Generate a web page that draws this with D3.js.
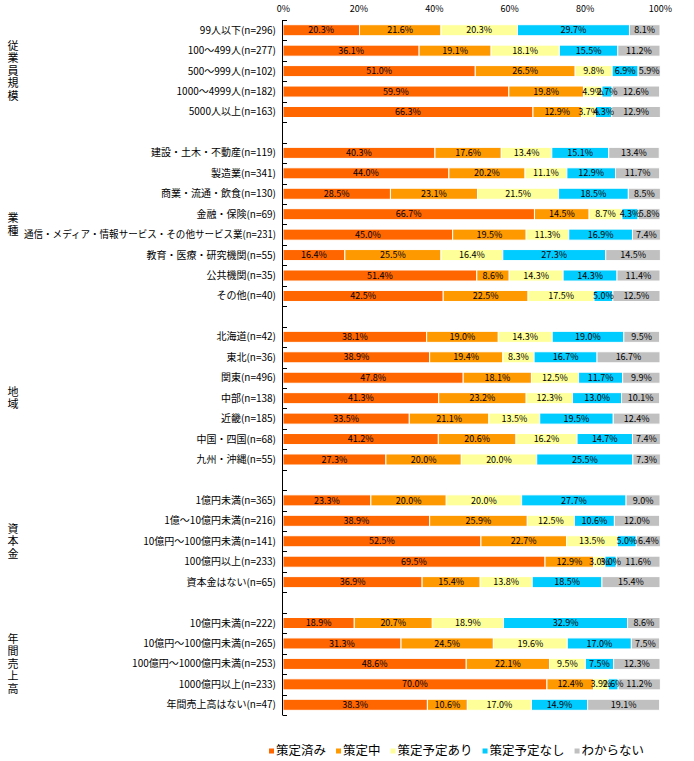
<!DOCTYPE html>
<html>
<head>
<meta charset="utf-8">
<script src="https://cdn.jsdelivr.net/npm/d3@7"></script>
<style>
  body { margin: 0; background: #fff; }
  text { font-family: "Noto Sans CJK JP", sans-serif; fill: #000; }
</style>
</head>
<body>
<div id="chart"></div>
<script>
// 系列名と色
const seriesNames = ["策定済み", "策定中", "策定予定あり", "策定予定なし", "わからない"]
const seriesColors = ["#ff6600", "#ff9900", "#ffff99", "#00ccff", "#c0c0c0"]

// グループ名とカテゴリ
const groupNames = ["従業員規模", "業種", "地域", "資本金", "年間売上高"]
const sizeCats = ["99人以下(n=296)", "100～499人(n=277)", "500～999人(n=102)", "1000～4999人(n=182)", "5000人以上(n=163)"]
const industryCats = ["建設・土木・不動産(n=119)", "製造業(n=341)", "商業・流通・飲食(n=130)", "金融・保険(n=69)",
  "通信・メディア・情報サービス・その他サービス業(n=231)", "教育・医療・研究機関(n=55)", "公共機関(n=35)", "その他(n=40)"]
const regionCats = ["北海道(n=42)", "東北(n=36)", "関東(n=496)", "中部(n=138)", "近畿(n=185)", "中国・四国(n=68)", "九州・沖縄(n=55)"]
const capitalCats = ["1億円未満(n=365)", "1億～10億円未満(n=216)", "10億円～100億円未満(n=141)", "100億円以上(n=233)", "資本金はない(n=65)"]
const salesCats = ["10億円未満(n=222)", "10億円～100億円未満(n=265)", "100億円～1000億円未満(n=253)", "1000億円以上(n=233)", "年間売上高はない(n=47)"]

// 系列ごとの値(%)、カテゴリ順
const done = [20.3, 36.1, 51.0, 59.9, 66.3,
  40.3, 44.0, 28.5, 66.7, 45.0, 16.4, 51.4, 42.5,
  38.1, 38.9, 47.8, 41.3, 33.5, 41.2, 27.3,
  23.3, 38.9, 52.5, 69.5, 36.9,
  18.9, 31.3, 48.6, 70.0, 38.3]
const inProgress = [21.6, 19.1, 26.5, 19.8, 12.9,
  17.6, 20.2, 23.1, 14.5, 19.5, 25.5, 8.6, 22.5,
  19.0, 19.4, 18.1, 23.2, 21.1, 20.6, 20.0,
  20.0, 25.9, 22.7, 12.9, 15.4,
  20.7, 24.5, 22.1, 12.4, 10.6]
const planned = [20.3, 18.1, 9.8, 4.9, 3.7,
  13.4, 11.1, 21.5, 8.7, 11.3, 16.4, 14.3, 17.5,
  14.3, 8.3, 12.5, 12.3, 13.5, 16.2, 20.0,
  20.0, 12.5, 13.5, 3.0, 13.8,
  18.9, 19.6, 9.5, 3.9, 17.0]
const notPlanned = [29.7, 15.5, 6.9, 2.7, 4.3,
  15.1, 12.9, 18.5, 4.3, 16.9, 27.3, 14.3, 5.0,
  19.0, 16.7, 11.7, 13.0, 19.5, 14.7, 25.5,
  27.7, 10.6, 5.0, 3.0, 18.5,
  32.9, 17.0, 7.5, 2.6, 14.9]
const unknown = [8.1, 11.2, 5.9, 12.6, 12.9,
  13.4, 11.7, 8.5, 5.8, 7.4, 14.5, 11.4, 12.5,
  9.5, 16.7, 9.9, 10.1, 12.4, 7.4, 7.3,
  9.0, 12.0, 6.4, 11.6, 15.4,
  8.6, 7.5, 12.3, 11.2, 19.1]

const xTicks = [0, 20, 40, 60, 80, 100]

// ---- 表示用データの組み立て ----
const groupCats = [sizeCats, industryCats, regionCats, capitalCats, salesCats]
const seriesValues = [done, inProgress, planned, notPlanned, unknown]

const rows = []
const slots = []
groupCats.forEach((cats, g) => {
  cats.forEach(c => {
    const i = rows.length
    rows.push({ name: c, group: g, values: seriesValues.map(s => s[i]) })
    slots.push(c)
  })
  if (g < groupCats.length - 1) slots.push("blank" + g)
})

const W = 694, H = 761
const margin = { top: 20, left: 283, right: 34, bottom: 46 }
const width = W - margin.left - margin.right
const height = H - margin.top - margin.bottom

const svg = d3.select("#chart").append("svg")
  .attr("width", W)
  .attr("height", H)

const g = svg.append("g")
  .attr("transform", "translate(" + margin.left + "," + margin.top + ")")

const x = d3.scaleLinear().domain([0, 100]).range([0, width])
const y = d3.scaleBand().domain(slots).range([0, height]).paddingInner(0.46).paddingOuter(0.23)
const step = y.step()

// 上側の目盛りラベル
g.append("g")
  .call(d3.axisTop(x).tickValues(xTicks).tickSize(0).tickPadding(8).tickFormat(d => d + "%"))
  .call(a => a.select(".domain").remove())
  .selectAll("text")
  .style("font-size", "9px")
  .style("font-family", "'Noto Sans CJK JP', sans-serif")

// 積み上げ棒
rows.forEach(r => {
  let acc = 0
  r.segs = r.values.map((v, k) => {
    const s = { x0: acc, x1: acc + v, v: v, k: k }
    acc += v
    return s
  })
})

const rowG = g.selectAll(".row")
  .data(rows)
  .enter().append("g")
  .attr("class", "row")
  .attr("transform", d => "translate(0," + y(d.name) + ")")

rowG.selectAll("rect")
  .data(d => d.segs)
  .enter().append("rect")
  .attr("x", d => x(d.x0))
  .attr("width", d => x(d.x1) - x(d.x0))
  .attr("height", y.bandwidth())
  .attr("fill", d => seriesColors[d.k])
  .attr("stroke", "#fff")
  .attr("stroke-width", 1)

rowG.selectAll(".val")
  .data(d => d.segs)
  .enter().append("text")
  .attr("class", "val")
  .attr("x", d => x((d.x0 + d.x1) / 2))
  .attr("y", y.bandwidth() / 2)
  .attr("dy", "0.35em")
  .attr("text-anchor", "middle")
  .style("font-size", "9px")
  .text(d => d.v.toFixed(1) + "%")

// 縦軸の線と目盛り
g.append("line")
  .attr("x1", -0.5).attr("x2", -0.5)
  .attr("y1", 0).attr("y2", height)
  .attr("stroke", "#000")

g.selectAll(".tick-mark")
  .data(d3.range(slots.length + 1))
  .enter().append("line")
  .attr("x1", -0.5).attr("x2", 4)
  .attr("y1", i => Math.round(i * step) + 0.5)
  .attr("y2", i => Math.round(i * step) + 0.5)
  .attr("stroke", "#000")

// カテゴリラベル(長すぎるものは幅を詰める)
const maxLabel = 252
g.selectAll(".cat")
  .data(rows)
  .enter().append("text")
  .attr("class", "cat")
  .attr("x", -7)
  .attr("y", d => y(d.name) + y.bandwidth() / 2)
  .attr("dy", "0.35em")
  .attr("text-anchor", "end")
  .style("font-size", "10px")
  .text(d => d.name)
  .each(function () {
    if (this.getComputedTextLength() > maxLabel) {
      d3.select(this).attr("textLength", maxLabel).attr("lengthAdjust", "spacingAndGlyphs")
    }
  })

// グループラベル(縦書き)
groupNames.forEach((name, gi) => {
  const cats = groupCats[gi]
  const c = (y(cats[0]) + y(cats[cats.length - 1]) + y.bandwidth()) / 2
  const chars = name.split("")
  const lh = 12.5
  const t = svg.append("text")
    .attr("x", 13)
    .attr("text-anchor", "middle")
    .style("font-size", "11px")
  chars.forEach((ch, j) => {
    t.append("tspan")
      .attr("x", 13)
      .attr("y", margin.top + c + (j - (chars.length - 1) / 2) * lh)
      .attr("dy", "0.35em")
      .text(ch)
  })
})

// 凡例
const legend = svg.append("g").attr("transform", "translate(269,751)")
let lx = 0
seriesNames.forEach((name, k) => {
  legend.append("rect")
    .attr("x", lx).attr("y", -2.5)
    .attr("width", 5).attr("height", 5)
    .attr("fill", seriesColors[k])
  const t = legend.append("text")
    .attr("x", lx + 7)
    .attr("dy", "0.35em")
    .style("font-size", "12.5px")
    .text(name)
  lx += 7 + t.node().getComputedTextLength() + 10
})
</script>
</body>
</html>
